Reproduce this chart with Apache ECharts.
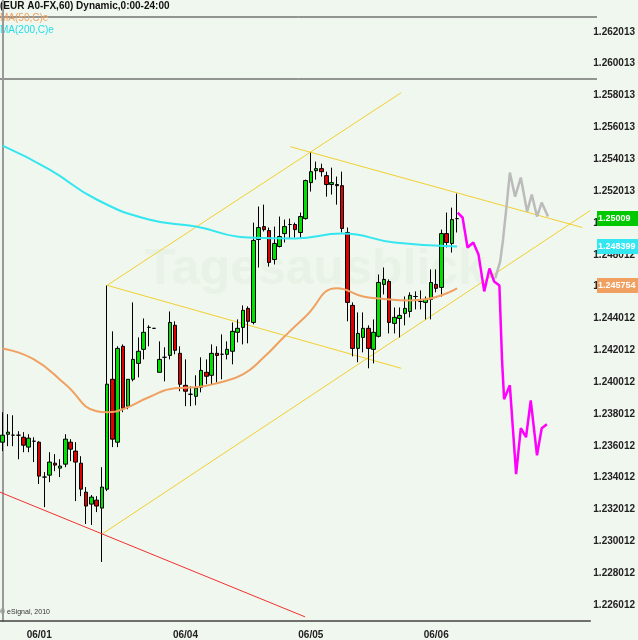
<!DOCTYPE html>
<html>
<head>
<meta charset="utf-8">
<script src="https://cdn.jsdelivr.net/npm/echarts@6/dist/echarts.min.js"></script>
<style>
  html, body { margin: 0; padding: 0; background: #f0f7ee; }
  #chart { width: 638px; height: 640px; }
</style>
</head>
<body>
<div id="chart"></div>
<script>
// candles: [open, close, low, high]
const candles = [
  [1.23623,1.23667,1.23567,1.23811],[1.23673,1.23686,1.23598,1.23799],[1.23667,1.23667,1.23598,1.23792],
  [1.23667,1.23667,1.23516,1.23692],[1.23654,1.23604,1.2356,1.23686],[1.23592,1.23648,1.2356,1.23673],
  [1.23629,1.23629,1.23498,1.23654],[1.23623,1.2341,1.2336,1.23629],[1.23404,1.23404,1.23215,1.23435],
  [1.23416,1.23498,1.23372,1.2356],[1.23491,1.23479,1.23441,1.23548],[1.2346,1.23473,1.23404,1.23516],
  [1.23485,1.23642,1.23466,1.23673],[1.23623,1.23579,1.23504,1.23642],[1.23567,1.23498,1.23253,1.23623],
  [1.23491,1.23328,1.23284,1.23535],[1.23309,1.23222,1.23109,1.23341],[1.23234,1.23278,1.23103,1.23291],
  [1.23259,1.23222,1.23184,1.23284],[1.23209,1.23341,1.22871,1.23466],[1.23328,1.23987,1.23316,1.24607],
  [1.24018,1.23642,1.23592,1.24319],[1.23623,1.24212,1.23592,1.24225],[1.24225,1.23836,1.23811,1.24237],
  [1.23849,1.24018,1.2383,1.24018],[1.24018,1.24143,1.24005,1.24501],[1.24118,1.24194,1.2403,1.24281],
  [1.24206,1.24313,1.24143,1.244],[1.24344,1.24344,1.24225,1.24357],[1.24338,1.24338,1.24338,1.24338],
  [1.24062,1.24143,1.24062,1.24256],[1.24156,1.24156,1.24005,1.24219],[1.24168,1.24375,1.24143,1.24444],
  [1.24357,1.242,1.24175,1.24382],[1.24181,1.23987,1.23943,1.24225],[1.2398,1.23943,1.23849,1.24143],
  [1.23924,1.23924,1.23849,1.23974],[1.23911,1.23962,1.23855,1.24043],[1.23968,1.24074,1.23936,1.24156],
  [1.24062,1.24037,1.23987,1.24143],[1.24043,1.24181,1.23987,1.24237],[1.24181,1.24168,1.23999,1.24225],
  [1.24175,1.24175,1.24018,1.243],[1.24175,1.24206,1.24143,1.24256],[1.24194,1.24319,1.24112,1.24375],
  [1.24313,1.24338,1.2425,1.24394],[1.24344,1.24451,1.24237,1.24482],[1.24463,1.24382,1.24244,1.24476],
  [1.24375,1.2489,1.24363,1.25002],[1.24896,1.24971,1.2472,1.25103],[1.24977,1.24958,1.24946,1.25115],
  [1.24952,1.24752,1.24726,1.24971],[1.2477,1.24871,1.24739,1.24977],[1.24852,1.24915,1.24846,1.2504],
  [1.24933,1.24977,1.24877,1.25021],[1.2499,1.2499,1.24902,1.25027],[1.2499,1.24958,1.24908,1.25002],
  [1.2494,1.2504,1.24902,1.25065],[1.25027,1.25266,1.25021,1.25272],[1.25253,1.25322,1.25197,1.25441],
  [1.25328,1.25341,1.25272,1.25385],[1.25341,1.25322,1.25291,1.25372],[1.25297,1.25241,1.25165,1.25322],
  [1.25241,1.25253,1.25178,1.25347],[1.25241,1.25234,1.25115,1.25291],[1.25234,1.24965,1.2494,1.25322],
  [1.2494,1.24501,1.24382,1.24971],[1.24482,1.24212,1.24162,1.24501],[1.24212,1.24306,1.24125,1.24438],
  [1.24281,1.24338,1.24187,1.24438],[1.24338,1.24212,1.24087,1.24357],[1.24206,1.24313,1.24118,1.24394],
  [1.24288,1.24626,1.24281,1.24676],[1.24614,1.24645,1.24551,1.2472],[1.24632,1.24375,1.24306,1.24645],
  [1.24369,1.24407,1.24306,1.24469],[1.244,1.24419,1.24281,1.24469],[1.24432,1.24463,1.24357,1.24538],
  [1.24444,1.24545,1.24407,1.24564],[1.24538,1.24538,1.24457,1.2457],[1.24507,1.24507,1.24457,1.24576],
  [1.24501,1.2452,1.24394,1.24538],[1.2452,1.24626,1.24394,1.24708],[1.24614,1.24589,1.24564,1.24708],
  [1.24595,1.24933,1.24538,1.24958],[1.24933,1.24877,1.24846,1.25065],[1.24871,1.25021,1.24814,1.25096],
  [1.25027,1.25027,1.2494,1.25184]
];
const barCount = 113;
const dateLabels = { 7: '06/01', 35: '06/04', 59: '06/05', 83: '06/06' };

// moving averages, read at [bar index, price]
const ma200 = [[0,1.25485],[9,1.25335],[18,1.25147],[28,1.25021],[37,1.24977],[47,1.24908],
  [56,1.24902],[65,1.24933],[75,1.24877],[87,1.24852]];
const ma50 = [[0,1.24212],[6,1.24143],[12,1.23987],[18,1.23817],[20,1.23811],[23,1.2383],
  [28,1.23905],[33,1.23962],[37,1.23968],[41,1.23993],[46,1.24049],[50,1.24156],[54,1.24288],
  [58,1.24413],[64,1.24589],[69,1.24538],[72,1.24526],[78,1.24513],[81,1.2452],[87,1.24589]];

// forecast paths
const pinkPath = [[87.1,1.25065],[88.05,1.25034],[89,1.24846],[90.1,1.24877],[91.1,1.24802],
  [92.2,1.2457],[93.2,1.24714],[94.1,1.24632],[95.1,1.24607],[95.6,1.24143],[96,1.23893],
  [97.1,1.2398],[98.3,1.23422],[99.2,1.23711],[100.2,1.23654],[101.1,1.23886],[102.3,1.23541],
  [103.2,1.23711],[104.2,1.23736]];
const grayPath = [[94.3,1.24651],[95.25,1.24758],[95.8,1.24896],[96.6,1.25147],[97.1,1.25316],
  [98.1,1.25165],[99.2,1.25285],[100.4,1.25071],[101.3,1.25178],[102.3,1.2504],[103.2,1.25128],
  [104.4,1.2504]];

// trend lines
const yellowLines = [
  [[20,1.24608],[76.3,1.25818]],
  [[20,1.24608],[76.3,1.24087]],
  [[55.05,1.25479],[111,1.24971]],
  [[19.03,1.23046],[112.5,1.25078]]
];
const redLine = [[-0.5,1.23309],[57.9,1.22526]];

const tickLabels = {
  1226:'1.226012',1228:'1.228012',1230:'1.230012',1232:'1.232012',1234:'1.234012',1236:'1.236012',
  1238:'1.238012',1240:'1.240012',1242:'1.242012',1244:'1.244012',1246:'1.246012',1248:'1.248012',
  1250:'1.250013',1252:'1.252013',1254:'1.254013',1256:'1.256013',1258:'1.258013',1260:'1.260013',
  1262:'1.262013'
};
const lastPrices = [
  { text: '1.25009', bg: '#00c800', y: 211 },
  { text: '1.248399', bg: '#33e6f0', y: 239 },
  { text: '1.245754', bg: '#f0a060', y: 278 }
];

const chart = echarts.init(document.getElementById('chart'));
const categories = Array.from({ length: barCount }, (_, i) => String(i));

const series = [
  {
    type: 'candlestick', xAxisIndex: 0, data: candles, barWidth: 4,
    itemStyle: { color: '#00e000', color0: '#e00000', borderColor: '#000', borderColor0: '#000', borderWidth: 1 }
  },
  { type: 'line', xAxisIndex: 1, data: ma200, symbol: 'none', smooth: true, lineStyle: { color: '#33e6f0', width: 2 } },
  { type: 'line', xAxisIndex: 1, data: ma50, symbol: 'none', smooth: true, lineStyle: { color: '#f0a060', width: 2 } },
  { type: 'line', xAxisIndex: 1, data: grayPath, symbol: 'none', lineStyle: { color: '#bbbbbb', width: 2.5 } },
  { type: 'line', xAxisIndex: 1, data: pinkPath, symbol: 'none', lineStyle: { color: '#ff00ff', width: 2.5 } },
  { type: 'line', xAxisIndex: 1, data: redLine, symbol: 'none', lineStyle: { color: '#f03030', width: 1 } }
];
yellowLines.forEach(l => series.push({
  type: 'line', xAxisIndex: 1, data: l, symbol: 'none', z: 1, lineStyle: { color: '#f2d030', width: 1 }
}));

const graphic = [
  { type: 'line', shape: { x1: 0, y1: 17, x2: 597, y2: 17 }, style: { stroke: '#333', lineWidth: 1 } },
  { type: 'line', shape: { x1: 0, y1: 79, x2: 597, y2: 79 }, style: { stroke: '#333', lineWidth: 1 } },
  { type: 'text', left: 0, top: 1, style: { text: '(EUR A0-FX,60) Dynamic,0:00-24:00', fill: '#111', font: 'bold 10px "Liberation Sans", sans-serif' } },
  { type: 'text', left: 0, top: 13, style: { text: 'MA(50,C)e', fill: '#f0a060', font: '10px "Liberation Sans", sans-serif' } },
  { type: 'text', left: 0, top: 25, style: { text: 'MA(200,C)e', fill: '#22dde8', font: '10px "Liberation Sans", sans-serif' } },
  { type: 'text', left: 0, top: 609, style: { text: '© eSignal, 2010', fill: '#333', font: '7px "Liberation Sans", sans-serif' } },
  { type: 'text', left: 145, top: 245, z: 0, style: { text: 'Tagesausblick', fill: 'rgba(120,150,120,0.05)', font: 'bold 50px "Liberation Sans", sans-serif' } }
];
lastPrices.forEach(p => {
  graphic.push({ type: 'rect', shape: { x: 597, y: p.y, width: 41, height: 15 }, style: { fill: p.bg }, z: 100 });
  graphic.push({ type: 'text', left: 598, top: p.y + 3, z: 101, style: { text: p.text, fill: '#fff', font: 'bold 9px "Liberation Sans", sans-serif' } });
});

chart.setOption({
  animation: false,
  backgroundColor: '#f0f7ee',
  grid: { left: 0, right: 41, top: 0, bottom: 19 },
  xAxis: [
    {
      type: 'category', data: categories, boundaryGap: true,
      axisLine: { lineStyle: { color: '#444', width: 1.5 } },
      axisTick: { show: false },
      axisLabel: {
        interval: (i) => dateLabels[i] !== undefined,
        formatter: (v) => dateLabels[v] || '',
        color: '#222', fontWeight: 'bold', fontSize: 10, fontFamily: 'Liberation Sans', margin: 9
      },
      splitLine: { show: false }
    },
    { type: 'value', min: -0.5, max: barCount - 0.5, show: false }
  ],
  yAxis: {
    type: 'value', position: 'right', min: 1.225, max: 1.264, interval: 0.001, scale: true,
    axisLine: { show: true, lineStyle: { color: '#999', width: 2 } },
    axisTick: { show: false },
    splitLine: { show: false },
    axisLabel: {
      margin: 3, color: '#222', fontWeight: 'bold', fontSize: 10, fontFamily: 'Liberation Sans',
      formatter: (v) => tickLabels[Math.round(v * 1000)] || ''
    }
  },
  series: series,
  graphic: graphic
});
</script>
</body>
</html>
